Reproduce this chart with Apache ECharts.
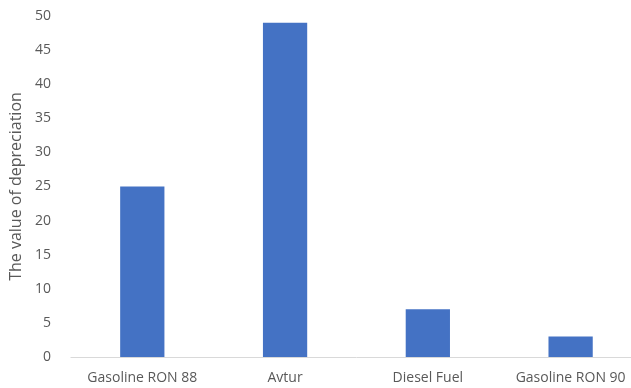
<!DOCTYPE html>
<html><head><meta charset="utf-8">
<script src="https://cdn.jsdelivr.net/npm/echarts@6/dist/echarts.min.js"></script>
<style>html,body{margin:0;padding:0;background:#fff;overflow:hidden;width:631px;height:388px}#c{width:642px;height:388px}</style>
</head><body><div id="c"></div>
<script>
const categories = ["Gasoline RON 88", "Avtur", "Diesel Fuel", "Gasoline RON 90"];
const values = [25, 49, 7, 3];
const yTitle = "The value of depreciation";

const chart = echarts.init(document.getElementById('c'), null, {renderer: 'canvas'});
chart.setOption({
  animation: false,
  backgroundColor: '#ffffff',
  textStyle: {fontFamily: 'Open Sans, Liberation Sans, sans-serif'},
  grid: {left: 66, top: 16, right: 0, bottom: 31, containLabel: false},
  xAxis: {
    type: 'category', data: categories,
    axisLine: {lineStyle: {color: '#d9d9d9', width: 1}},
    axisTick: {show: false},
    axisLabel: {color: '#595959', fontSize: 14, margin: 14, interval: 0}
  },
  yAxis: {
    type: 'value', min: 0, max: 50, interval: 5,
    name: yTitle, nameLocation: 'middle', nameGap: 38,
    nameTextStyle: {color: '#595959', fontSize: 16},
    axisLine: {show: false}, axisTick: {show: false},
    splitLine: {show: false},
    axisLabel: {color: '#595959', fontSize: 14, margin: 20}
  },
  series: [{
    type: 'bar', data: values, barWidth: '31%',
    itemStyle: {color: '#4472c4'}
  }]
});
</script></body></html>
